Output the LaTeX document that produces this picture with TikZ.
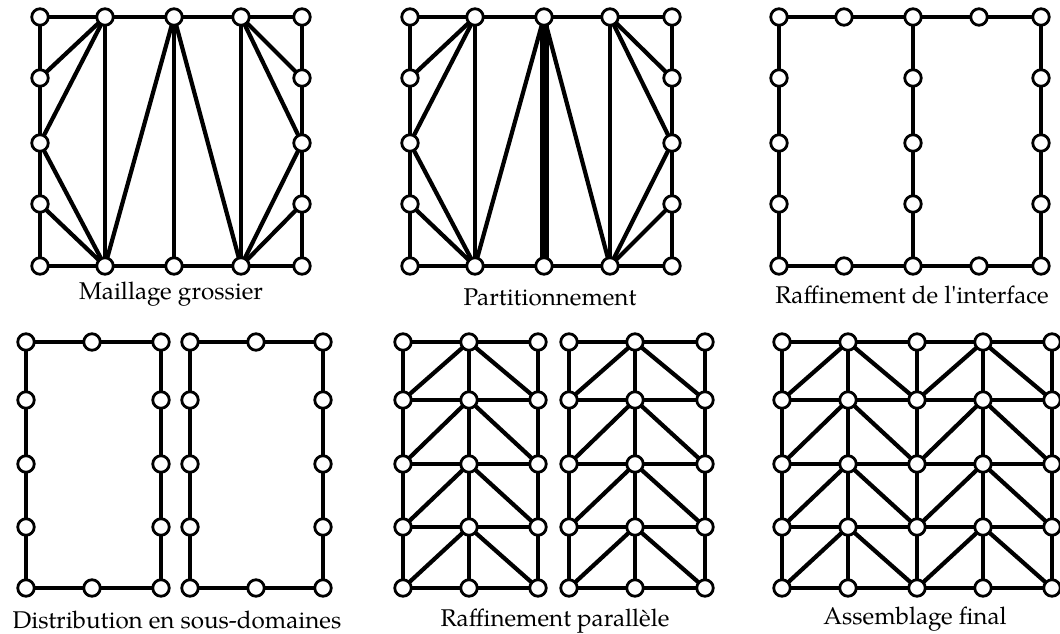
\documentclass[tikz,border=0pt]{standalone}
\usepackage{fontspec}
\setmainfont{TeX Gyre Pagella}
\usetikzlibrary{backgrounds}
\newcommand\myedge[2]{\draw[edge] (#1.center) -- (#2.center);}
\begin{document}
\begin{tikzpicture}[x=1pt,y=-1pt,
  vtx/.style={circle,draw,fill=white,line width=2.8pt,minimum size=16.5pt,inner sep=0pt},
  edge/.style={line width=4.2pt},
  thickedge/.style={line width=9pt},
  lbl/.style={anchor=base,font=\fontsize{24.2}{27}\selectfont,inner sep=0pt}]
\useasboundingbox (0,0) rectangle (1060,634);

% ---------- Panel 1 : Maillage grossier ----------
\foreach \i/\x in {1/40,2/105,3/174,4/241,5/302}{
  \node[vtx] (A\i1) at (\x,17) {};
  \node[vtx] (A\i5) at (\x,266) {};}
\foreach \j/\y in {2/78,3/143,4/204}{
  \node[vtx] (A1\j) at (40,\y) {};
  \node[vtx] (A5\j) at (302,\y) {};}
% ---------- Panel 2 : Partitionnement ----------
\foreach \i/\x in {1/410,2/475,3/544,4/610,5/672}{
  \node[vtx] (B\i1) at (\x,17) {};
  \node[vtx] (B\i5) at (\x,266) {};}
\foreach \j/\y in {2/78,3/143,4/204}{
  \node[vtx] (B1\j) at (410,\y) {};
  \node[vtx] (B5\j) at (672,\y) {};}
% ---------- Panel 3 : Raffinement de l'interface ----------
\foreach \i/\x in {1/779,2/844,3/913,4/979,5/1041}{
  \node[vtx] (C\i1) at (\x,17) {};
  \node[vtx] (C\i5) at (\x,266) {};}
\foreach \j/\y in {2/78,3/143,4/204}{
  \node[vtx] (C1\j) at (779,\y) {};
  \node[vtx] (C3\j) at (913,\y) {};
  \node[vtx] (C5\j) at (1041,\y) {};}
% ---------- Panel 4 : Distribution ----------
\foreach \P/\xa/\xb/\xc in {D/26/92/161,E/190/256/323}{
  \foreach \i/\x in {1/\xa,2/\xb,3/\xc}{
    \node[vtx] (\P\i1) at (\x,342) {};
    \node[vtx] (\P\i5) at (\x,588) {};}
  \foreach \j/\y in {2/400,3/464,4/527}{
    \node[vtx] (\P1\j) at (\xa,\y) {};
    \node[vtx] (\P3\j) at (\xc,\y) {};}}
% ---------- Panel 5 : Raffinement parallele ----------
\foreach \P/\xa/\xb/\xc in {F/403/469/538,G/569/635/705}{
  \foreach \i/\x in {1/\xa,2/\xb,3/\xc}{
    \foreach \j/\y in {1/342,2/400,3/464,4/527,5/588}{
      \node[vtx] (\P\i\j) at (\x,\y) {};}}}
% ---------- Panel 6 : Assemblage final ----------
\foreach \i/\x in {1/782,2/848,3/917,4/983,5/1052}{
  \foreach \j/\y in {1/342,2/400,3/464,4/527,5/588}{
    \node[vtx] (H\i\j) at (\x,\y) {};}}

\begin{pgfonlayer}{background}
% panel 1 and 2
\foreach \P in {A,B}{
  \draw[edge] (\P11.center) -- (\P51.center) -- (\P55.center) -- (\P15.center) -- cycle;
  \myedge{\P21}{\P12} \myedge{\P21}{\P13} \myedge{\P13}{\P25} \myedge{\P14}{\P25}
  \myedge{\P21}{\P25} \myedge{\P25}{\P31}
  \myedge{\P31}{\P45} \myedge{\P41}{\P45}
  \myedge{\P41}{\P52} \myedge{\P41}{\P53} \myedge{\P53}{\P45} \myedge{\P54}{\P45}}
\myedge{A31}{A35}
\draw[thickedge] (B31.center) -- (B35.center);
% panel 3
\draw[edge] (C11.center) -- (C51.center) -- (C55.center) -- (C15.center) -- cycle;
\myedge{C31}{C35}
% panel 4
\foreach \P in {D,E}{
  \draw[edge] (\P11.center) -- (\P31.center) -- (\P35.center) -- (\P15.center) -- cycle;}
% panel 5
\foreach \P in {F,G}{
  \draw[edge] (\P11.center) -- (\P31.center) -- (\P35.center) -- (\P15.center) -- cycle;
  \myedge{\P21}{\P25}
  \foreach \j in {2,3,4}{\myedge{\P1\j}{\P3\j}}
  \foreach \j/\k in {1/2,2/3,3/4,4/5}{
    \myedge{\P2\j}{\P1\k} \myedge{\P2\j}{\P3\k}}}
% panel 6
\draw[edge] (H11.center) -- (H51.center) -- (H55.center) -- (H15.center) -- cycle;
\foreach \j in {2,3,4}{\myedge{H1\j}{H5\j}}
\foreach \i in {2,3,4}{\myedge{H\i1}{H\i5}}
\foreach \j/\k in {1/2,2/3,3/4,4/5}{
  \myedge{H2\j}{H1\k} \myedge{H2\j}{H3\k}
  \myedge{H4\j}{H3\k} \myedge{H4\j}{H5\k}}
\end{pgfonlayer}

% labels
\node[lbl] (L1) at (171,299) {Maillage grossier};
\node[lbl] (L2) at (550,305) {Partitionnement};
\node[lbl] (L3) at (912,303) {Raffinement de l\textquotesingle interface};
\node[lbl] (L4) at (177,628) {Distribution en sous-domaines};
\node[lbl] (L5) at (555,626) {Raffinement parallèle};
\node[lbl] (L6) at (915,624) {Assemblage final};
\end{tikzpicture}
\end{document}
